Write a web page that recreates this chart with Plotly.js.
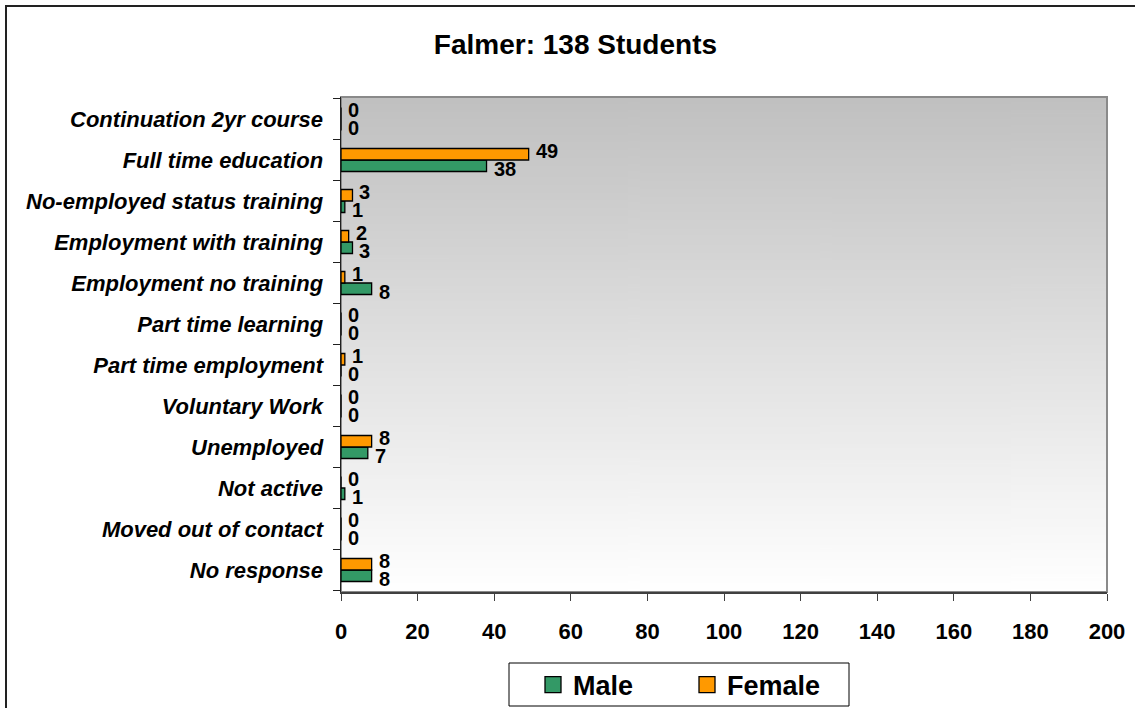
<!DOCTYPE html>
<html>
<head>
<meta charset="utf-8">
<script src="https://cdn.plot.ly/plotly-3.0.1.min.js"></script>
<style>
  html, body { margin: 0; padding: 0; background: #fff; }
  #wrap { position: relative; width: 1135px; height: 708px; }
  #chart { width: 1135px; height: 708px; }
  #frame { position: absolute; left: 5px; top: 5px; width: 1140px; height: 720px;
           border-left: 2px solid #222; border-top: 2px solid #222; pointer-events: none; }
</style>
</head>
<body>
<div id="wrap">
  <div id="chart"></div>
  <div id="frame"></div>
</div>
<script>
// Categories, top to bottom as shown
var categories = [
  "Continuation 2yr course",
  "Full time education",
  "No-employed status training",
  "Employment with training",
  "Employment no training",
  "Part time learning",
  "Part time employment",
  "Voluntary Work",
  "Unemployed",
  "Not active",
  "Moved out of contact",
  "No response"
];
var maleValues   = [0, 38, 1, 3, 8, 0, 0, 0, 7, 1, 0, 8];
var femaleValues = [0, 49, 3, 2, 1, 0, 1, 0, 8, 0, 0, 8];
var seriesNames = ["Male", "Female"];
var seriesColors = ["#339966", "#FF9900"];
var xTickValues = [0, 20, 40, 60, 80, 100, 120, 140, 160, 180, 200];

// vertical gradient background for plot area
var cv = document.createElement("canvas");
cv.width = 4; cv.height = 256;
var ctx = cv.getContext("2d");
var g = ctx.createLinearGradient(0, 0, 0, 256);
g.addColorStop(0, "#c0c0c0");
g.addColorStop(1, "#ffffff");
ctx.fillStyle = g;
ctx.fillRect(0, 0, 4, 256);
var bgURL = cv.toDataURL();

var FONT = "Liberation Sans, Arial, sans-serif";
var labelFont = {family: FONT, size: 20, color: "#000", weight: "bold"};

var traces = [
  {
    type: "bar", orientation: "h", name: seriesNames[0],
    y: categories, x: maleValues,
    marker: {color: seriesColors[0], line: {color: "#000", width: 1.3}},
    showlegend: false, hoverinfo: "skip"
  },
  {
    type: "bar", orientation: "h", name: seriesNames[1],
    y: categories, x: femaleValues,
    marker: {color: seriesColors[1], line: {color: "#000", width: 1.3}},
    showlegend: false, hoverinfo: "skip"
  },
  // legend-only entries
  {
    type: "scatter", mode: "markers", name: seriesNames[0], x: [null], y: [null],
    marker: {symbol: "square", size: 18, color: seriesColors[0], line: {color: "#000", width: 1.3}},
    showlegend: true
  },
  {
    type: "scatter", mode: "markers", name: seriesNames[1], x: [null], y: [null],
    marker: {symbol: "square", size: 18, color: seriesColors[1], line: {color: "#000", width: 1.3}},
    showlegend: true
  }
];

// data labels (value labels beside each bar), female above, male below
var annotations = [];
categories.forEach(function (c, i) {
  annotations.push({
    xref: "x", yref: "y", x: femaleValues[i], y: c, text: String(femaleValues[i]),
    showarrow: false, xanchor: "left", yanchor: "middle", xshift: 5, yshift: 9,
    font: labelFont
  });
  annotations.push({
    xref: "x", yref: "y", x: maleValues[i], y: c, text: String(maleValues[i]),
    showarrow: false, xanchor: "left", yanchor: "middle", xshift: 5, yshift: -9,
    font: labelFont
  });
});

var layout = {
  width: 1135, height: 708,
  margin: {l: 341, r: 28, t: 97, b: 116, autoexpand: false},
  paper_bgcolor: "#ffffff",
  plot_bgcolor: "rgba(0,0,0,0)",
  barmode: "group",
  bargap: 0.44,
  bargroupgap: 0,
  title: {
    text: "Falmer: 138 Students",
    font: {family: FONT, size: 28, color: "#000", weight: "bold"},
    xref: "container", x: 0.507, xanchor: "center",
    yref: "container", y: 1 - 44/708, yanchor: "middle"
  },
  xaxis: {
    range: [0, 200],
    tickvals: xTickValues,
    ticktext: xTickValues.map(String),
    ticks: "outside", ticklen: 7, tickcolor: "#404040", tickwidth: 1,
    showline: true, linecolor: "#404040", linewidth: 1.5,
    showgrid: false, zeroline: false,
    tickfont: {family: FONT, size: 22, color: "#000", weight: "bold"},
    ticklabelstandoff: 12,
    fixedrange: true
  },
  yaxis: {
    type: "category",
    categoryorder: "array",
    categoryarray: categories.slice().reverse(),
    ticks: "outside", ticklen: 7, tickcolor: "#202020", tickwidth: 1,
    tickson: "boundaries",
    showline: true, linecolor: "#202020", linewidth: 1.5,
    showgrid: false, zeroline: false,
    tickfont: {family: FONT, size: 22, color: "#000", weight: "bold", style: "italic"},
    ticklabelstandoff: 12,
    fixedrange: true
  },
  annotations: annotations,
  images: [{
    source: bgURL, xref: "paper", yref: "paper",
    x: 0, y: 1, sizex: 1, sizey: 1, xanchor: "left", yanchor: "top",
    sizing: "stretch", layer: "below"
  }],
  shapes: [
    {
      type: "rect", xref: "paper", yref: "paper", x0: 0, x1: 1, y0: 0, y1: 1,
      line: {color: "#8a8a8a", width: 2}, fillcolor: "rgba(0,0,0,0)", layer: "below"
    },
    {
      // legend frame
      type: "rect", xref: "paper", yref: "paper",
      x0: (509 - 341) / 766, x1: (849 - 341) / 766,
      y0: (592 - 706) / 495, y1: (592 - 663) / 495,
      line: {color: "#000", width: 1}, fillcolor: "#ffffff", layer: "above"
    }
  ],
  legend: {
    orientation: "h",
    x: (533 - 341) / 766, xanchor: "left",
    y: (592 - 685) / 495, yanchor: "middle",
    bgcolor: "rgba(0,0,0,0)", borderwidth: 0,
    font: {family: FONT, size: 27, color: "#000", weight: "bold"},
    entrywidth: 109, entrywidthmode: "pixels",
    itemclick: false, itemdoubleclick: false
  },
  showlegend: true
};

Plotly.newPlot("chart", traces, layout, {staticPlot: true, displayModeBar: false});
</script>
</body>
</html>
